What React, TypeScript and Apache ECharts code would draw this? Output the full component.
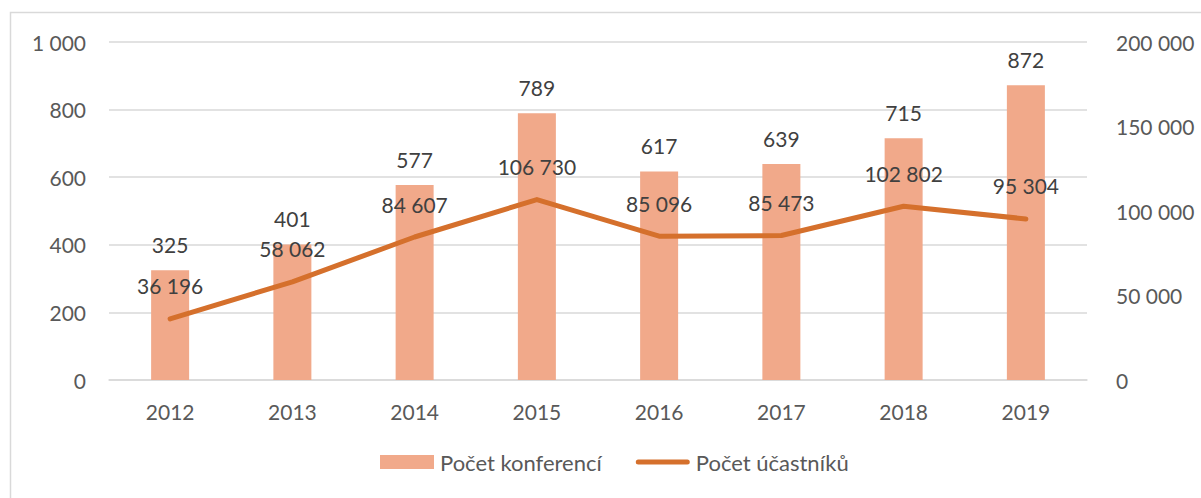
import React, { useEffect, useRef } from "react";
import * as echarts from "echarts";

const years = ["2012", "2013", "2014", "2015", "2016", "2017", "2018", "2019"];
const conferences = [325, 401, 577, 789, 617, 639, 715, 872];
const participants = [36196, 58062, 84607, 106730, 85096, 85473, 102802, 95304];
const seriesNames = ["Počet konferencí", "Počet účastníků"];

const fmt = (v: number) => String(v).replace(/\B(?=(\d{3})+(?!\d))/g, " ");

const FONT = "Lato, 'Open Sans', sans-serif";
const TEXT = "#595959";
const LINE = "#D5702C";

export default function App() {
  const ref = useRef<HTMLDivElement>(null);
  useEffect(() => {
    if (!ref.current) return;
    const chart = echarts.init(ref.current, null, { renderer: "svg" });
    chart.setOption({
      animation: false,
      backgroundColor: "#fff",
      textStyle: { fontFamily: FONT, color: TEXT },
      graphic: [
        {
          type: "rect",
          shape: { x: 10.5, y: 12.5, width: 1200, height: 500 },
          style: { fill: "none", stroke: "#D9D9D9", lineWidth: 1.5 },
          silent: true,
          z: -10,
        },
      ],
      grid: { left: 109, right: 114, top: 42, bottom: 118, containLabel: false },
      legend: {
        bottom: 20,
        left: 375,
        itemGap: 34,
        itemWidth: 54,
        itemHeight: 14,
        textStyle: { fontFamily: FONT, fontSize: 22, color: TEXT, padding: [0, 0, 0, 1] },
        data: [
          { name: seriesNames[0], icon: "rect" },
          {
            name: seriesNames[1],
            icon: "path://M2.5,0 L51.5,0 A2.5,2.5 0 0 1 51.5,5 L2.5,5 A2.5,2.5 0 0 1 2.5,0 Z",
            itemStyle: { color: LINE },
          },
        ],
      },
      xAxis: {
        type: "category",
        data: years,
        axisLine: { show: true, lineStyle: { color: "#D9D9D9", width: 1.5 } },
        axisTick: { show: false },
        axisLabel: { color: TEXT, fontSize: 21, fontFamily: FONT, margin: 21 },
      },
      yAxis: [
        {
          type: "value",
          min: 0,
          max: 1000,
          interval: 200,
          axisLine: { show: false },
          axisTick: { show: false },
          splitLine: { lineStyle: { color: "#D9D9D9", width: 1.5 } },
          axisLabel: { color: TEXT, fontSize: 21, fontFamily: FONT, margin: 23, formatter: (v: number) => fmt(v) },
        },
        {
          type: "value",
          min: 0,
          max: 200000,
          interval: 50000,
          axisLine: { show: false },
          axisTick: { show: false },
          splitLine: { show: false },
          axisLabel: { color: TEXT, fontSize: 21, fontFamily: FONT, margin: 29, formatter: (v: number) => fmt(v) },
        },
      ],
      series: [
        {
          name: seriesNames[0],
          type: "bar",
          data: conferences,
          barWidth: 38,
          itemStyle: { color: "#F1A98A" },
          label: {
            show: true,
            position: "top",
            distance: 15,
            color: "#404040",
            fontSize: 21,
            fontFamily: FONT,
            formatter: (p: any) => fmt(p.value),
          },
          z: 2,
        },
        {
          name: seriesNames[1],
          type: "line",
          yAxisIndex: 1,
          data: participants,
          symbol: "circle",
          symbolSize: 1,
          showSymbol: true,
          lineStyle: { color: LINE, width: 5, cap: "round", join: "round" },
          itemStyle: { color: LINE },
          label: {
            show: true,
            position: "top",
            distance: 22,
            color: "#404040",
            fontSize: 21,
            fontFamily: FONT,
            formatter: (p: any) => fmt(p.value),
          },
          labelLayout: { hideOverlap: false },
          z: 3,
        },
      ],
    });
    return () => chart.dispose();
  }, []);
  return (
    <div
      ref={ref}
      style={{ position: "absolute", left: 0, top: 0, width: 1201, height: 498 }}
    />
  );
}
